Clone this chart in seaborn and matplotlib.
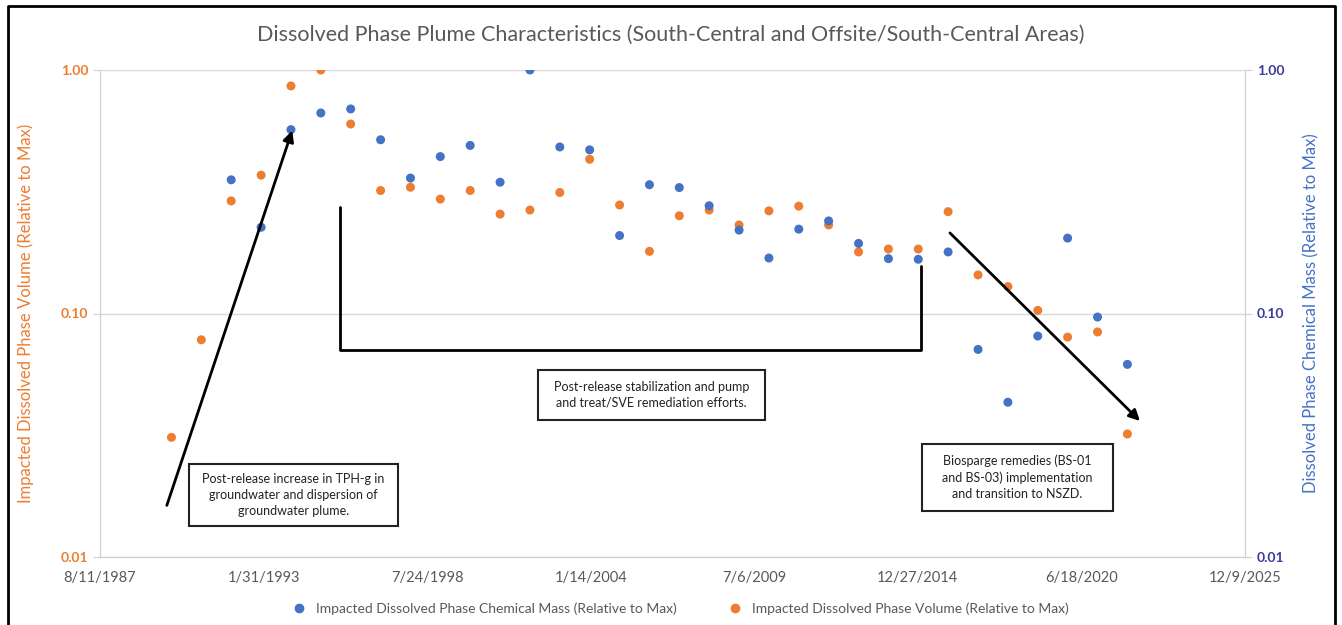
import pandas as pd
import seaborn as sns
import matplotlib.pyplot as plt
from matplotlib.lines import Line2D
from matplotlib.patches import Rectangle

# values (relative to max, log scale)
vol_years = [1990, 1991, 1992, 1993, 1994, 1995, 1996, 1997, 1998, 1999, 2000,
             2001, 2002, 2003, 2004, 2005, 2006, 2007, 2008, 2009, 2010, 2011,
             2012, 2013, 2014, 2015, 2016, 2017, 2018, 2019, 2020, 2021, 2022]
vol_values = [0.031, 0.078, 0.29, 0.37, 0.86, 1.00, 0.60, 0.32, 0.33, 0.295, 0.32,
              0.256, 0.266, 0.314, 0.43, 0.279, 0.18, 0.252, 0.266, 0.231, 0.264, 0.276,
              0.231, 0.179, 0.184, 0.184, 0.262, 0.144, 0.129, 0.103, 0.080, 0.084, 0.032]

mass_years = [1992, 1993, 1994, 1995, 1996, 1997, 1998, 1999, 2000, 2001, 2002,
              2003, 2004, 2005, 2006, 2007, 2008, 2009, 2010, 2011, 2012, 2013,
              2014, 2015, 2016, 2017, 2018, 2019, 2020, 2021, 2022]
mass_values = [0.354, 0.226, 0.569, 0.666, 0.692, 0.517, 0.36, 0.441, 0.49, 0.346, 1.00,
               0.483, 0.47, 0.209, 0.338, 0.329, 0.277, 0.22, 0.169, 0.222, 0.24, 0.194,
               0.168, 0.167, 0.179, 0.0712, 0.0432, 0.0808, 0.204, 0.0967, 0.0618]

x_tick_labels = ['8/11/1987', '1/31/1993', '7/24/1998', '1/14/2004',
                 '7/6/2009', '12/27/2014', '6/18/2020', '12/9/2025']
y_ticks = [0.01, 0.1, 1.0]
y_tick_labels = ['0.01', '0.10', '1.00']

mass_label = 'Impacted Dissolved Phase Chemical Mass (Relative to Max)'
vol_label = 'Impacted Dissolved Phase Volume (Relative to Max)'

vol_df = pd.DataFrame({'date': pd.to_datetime([f'{y}-01-01' for y in vol_years]),
                       'value': vol_values})
mass_df = pd.DataFrame({'date': pd.to_datetime([f'{y}-01-01' for y in mass_years]),
                        'value': mass_values})
x_ticks = pd.to_datetime(x_tick_labels, format='%m/%d/%Y')

ORANGE = '#ED7D31'
BLUE = '#4472C4'
GRAY = '#595959'

sns.set_style('white')
plt.rcParams['font.family'] = ['Lato', 'DejaVu Sans']

fig = plt.figure(figsize=(13.42, 6.25), dpi=100)
ax = fig.add_axes([100 / 1342, 68 / 625, 1145 / 1342, 487 / 625])
ax2 = ax.twinx()

sns.scatterplot(data=vol_df, x='date', y='value', ax=ax, color=ORANGE, s=42,
                marker='o', edgecolor='none', zorder=3)
sns.scatterplot(data=mass_df, x='date', y='value', ax=ax2, color=BLUE, s=42,
                marker='o', edgecolor='none', zorder=3)

for a in (ax, ax2):
    a.set_yscale('log')
    a.set_ylim(0.01, 1.0)
    a.set_yticks(y_ticks)
    a.set_yticklabels(y_tick_labels)
    a.minorticks_off()
    a.set_xlim(x_ticks[0], x_ticks[-1])
    for s in a.spines.values():
        s.set_color('#D0D0D0')
    a.spines['top'].set_visible(False)

ax.set_xticks(x_ticks)
ax.set_xticklabels(x_tick_labels, color=GRAY, fontsize=10.5)
ax.tick_params(axis='x', length=0, pad=10)
ax.tick_params(axis='y', colors='#D0D0D0', labelcolor=ORANGE, labelsize=10, length=5)
ax2.tick_params(axis='y', colors='#D0D0D0', labelcolor='#3B3B9E', labelsize=10, length=5)
for lbl in ax.get_yticklabels() + ax2.get_yticklabels():
    lbl.set_fontweight('bold')

ax.grid(axis='y', color='#D9D9D9', lw=1)
ax.set_xlabel('')
ax.set_ylabel(vol_label, color=ORANGE, fontsize=12, labelpad=19)
ax2.set_ylabel('Dissolved Phase Chemical Mass (Relative to Max)', color=BLUE,
               fontsize=12, labelpad=14)

fig.text(0.5, 1 - 35 / 625, 'Dissolved Phase Plume Characteristics (South-Central and Offsite/South-Central Areas)',
         ha='center', va='center', fontsize=15.5, color=GRAY)

# annotations (axes fraction)
tr = ax2.transAxes
ax2.annotate('', xy=(0.1686, 0.881), xytext=(0.0576, 0.1006), xycoords=tr, textcoords=tr,
             arrowprops=dict(arrowstyle='-|>', color='black', lw=2, mutation_scale=16))
ax2.annotate('', xy=(0.910, 0.2752), xytext=(0.7406, 0.6694), xycoords=tr, textcoords=tr,
             arrowprops=dict(arrowstyle='-|>', color='black', lw=2, mutation_scale=16))
ax2.add_line(Line2D([0.2096, 0.2096, 0.717, 0.717], [0.7187, 0.425, 0.425, 0.5975],
                    transform=tr, color='black', lw=2, zorder=5))

boxes = [
    ((0.0777, 0.0637, 0.1826, 0.1273),
     'Post-release increase in TPH-g in\ngroundwater and dispersion of\ngroundwater plume.'),
    ((0.3825, 0.2813, 0.1983, 0.1027),
     'Post-release stabilization and pump\nand treat/SVE remediation efforts.'),
    ((0.7179, 0.0945, 0.1668, 0.1375),
     'Biosparge remedies (BS-01\nand BS-03) implementation\nand transition to NSZD.'),
]
for (bx, by, bw, bh), txt in boxes:
    ax2.add_patch(Rectangle((bx, by), bw, bh, transform=tr, fc='white', ec='#222222',
                            lw=1.5, zorder=6))
    ax2.text(bx + bw / 2, by + bh / 2, txt, transform=tr, ha='center', va='center',
             fontsize=9, color='#222222', linespacing=1.4, zorder=7)

handles = [Line2D([], [], ls='', marker='o', color=BLUE, markersize=6),
           Line2D([], [], ls='', marker='o', color=ORANGE, markersize=6)]
fig.legend(handles, [mass_label, vol_label], loc='center', bbox_to_anchor=(0.5045, 1 - 609 / 625),
           ncol=2, frameon=False, fontsize=10, labelcolor=GRAY, handletextpad=0.2,
           columnspacing=3.2)

# outer frame
fig.add_artist(Line2D([8 / 1342, 8 / 1342, 1335 / 1342, 1335 / 1342],
                      [-0.01, 1 - 6 / 625, 1 - 6 / 625, -0.01],
                      transform=fig.transFigure, color='black', lw=2))

fig.savefig('out.png', dpi=100)
